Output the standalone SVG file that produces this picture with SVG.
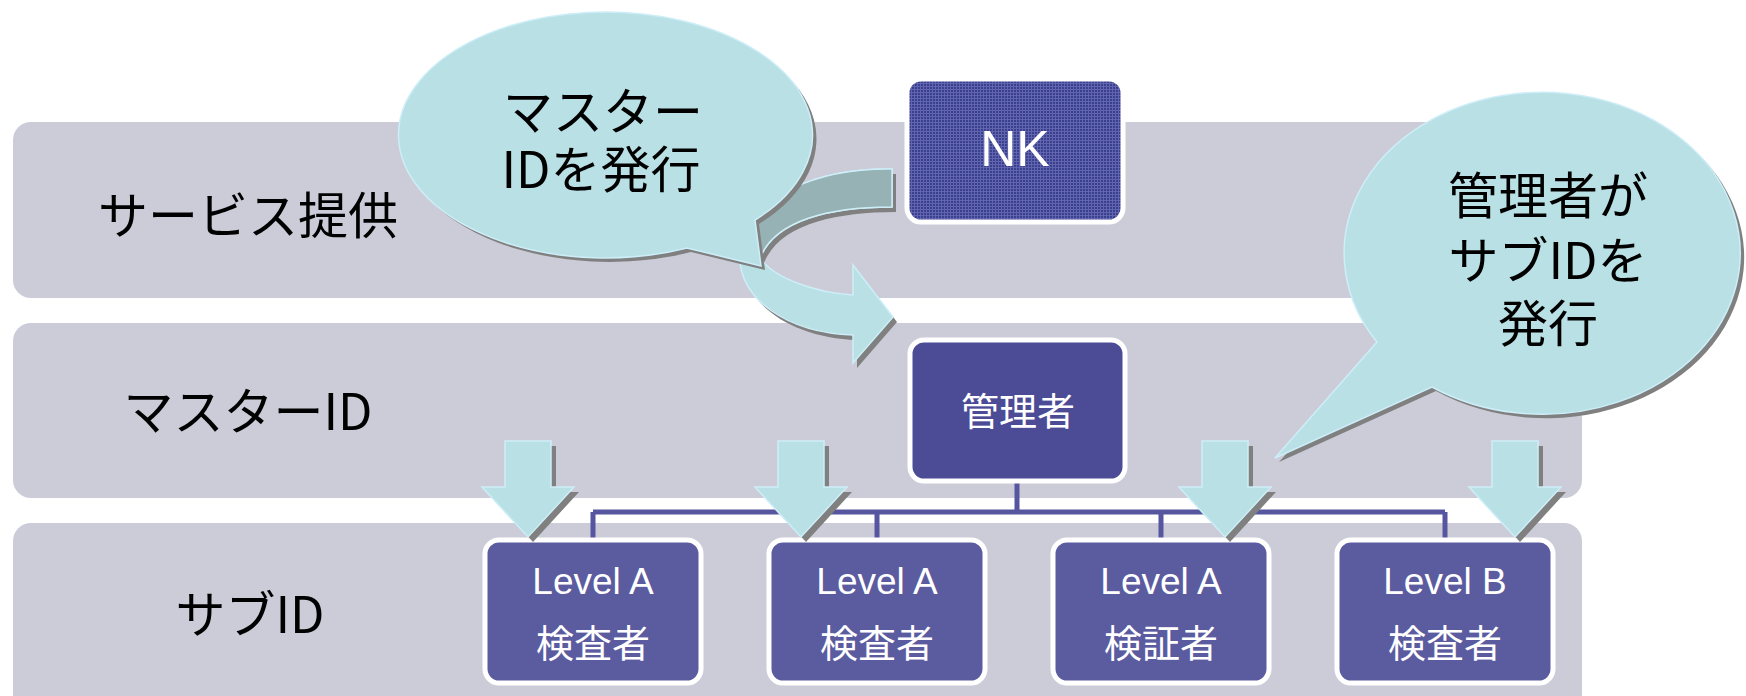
<svg xmlns="http://www.w3.org/2000/svg" xmlns:xlink="http://www.w3.org/1999/xlink" width="1746" height="696" viewBox="0 0 1746 696">
  <defs>
    <pattern id="mesh" width="3" height="3" patternUnits="userSpaceOnUse">
      <rect width="3" height="3" fill="#6065AD"/>
      <rect width="2" height="2" fill="#3A3F90"/>
    </pattern>
    <path id="darrow" d="M -23,441 H 23 V 487 H 46 L 0,537 L -46,487 H -23 Z"/>
    <path id="ribbon" d="M 892,169 C 820,168 748,195 740,250 C 735,300 790,333 853,335 L 853,363 L 893,317 L 853,265 L 853,295 C 820,293 775,280 760,258 C 775,220 830,207 892,207 Z"/>
    <path id="bubble1" d="M 687,248 A 207,123 0 1 1 755,220 L 761,266 Z"/>
    <path id="bubble2" d="M 1432,387 A 198,161 0 1 0 1377,342 L 1275,458 Z"/>
  </defs>
  <style>
    .band { fill: #CCCCD8; }
    .lbl { font-family: "Noto Sans CJK JP", "Noto Sans", sans-serif; font-size: 50px; fill: #000; text-anchor: middle; dominant-baseline: central; }
    .box { stroke: #FFFFFF; stroke-width: 5; }
    .sub { fill: #5B5B9F; }
    .wt { fill: #FFFFFF; text-anchor: middle; dominant-baseline: central; }
    .lat { font-family: "Liberation Sans", Arial, sans-serif; }
    .jp { font-family: "Noto Sans CJK JP", sans-serif; }
    .shadow { fill: #808080; }
    .cyan { fill: #B9E0E4; stroke: #CDEEF8; stroke-width: 1.5; }
    .conn { fill: none; stroke: #5656A0; stroke-width: 5; }
  </style>

  <g id="bands">
    <rect class="band" x="13" y="122" width="1569" height="176" rx="18"/>
    <rect class="band" x="13" y="323" width="1569" height="175" rx="18"/>
    <rect class="band" x="13" y="523" width="1569" height="200" rx="18"/>
    <text class="lbl" x="248" y="212">サービス提供</text>
    <text class="lbl" x="248" y="408">マスターID</text>
    <text class="lbl" x="250" y="611">サブID</text>
  </g>

  <g id="connectors">
    <path class="conn" d="M 1017,482 V 512 M 593,512 H 1445 M 593,512 V 538 M 877,512 V 538 M 1161,512 V 538 M 1445,512 V 538"/>
  </g>

  <g id="node-nk">
    <rect class="box" x="907" y="79" width="216" height="143" rx="14" fill="url(#mesh)"/>
    <text class="wt lat" x="1015" y="149" font-size="50">NK</text>
  </g>

  <g id="node-admin">
    <rect class="box" x="910" y="340" width="215" height="141" rx="14" fill="#4B4B96"/>
    <text class="wt jp" x="1018" y="408" font-size="38">管理者</text>
  </g>

  <g id="node-a-inspector-1">
    <rect class="box sub" x="485" y="540" width="216" height="143" rx="14"/>
    <text class="wt lat" x="593" y="581" font-size="37">Level A</text>
    <text class="wt jp" x="593" y="640" font-size="38">検査者</text>
  </g>
  <g id="node-a-inspector-2">
    <rect class="box sub" x="769" y="540" width="216" height="143" rx="14"/>
    <text class="wt lat" x="877" y="581" font-size="37">Level A</text>
    <text class="wt jp" x="877" y="640" font-size="38">検査者</text>
  </g>
  <g id="node-a-verifier">
    <rect class="box sub" x="1053" y="540" width="216" height="143" rx="14"/>
    <text class="wt lat" x="1161" y="581" font-size="37">Level A</text>
    <text class="wt jp" x="1161" y="640" font-size="38">検証者</text>
  </g>
  <g id="node-b-inspector">
    <rect class="box sub" x="1337" y="540" width="216" height="143" rx="14"/>
    <text class="wt lat" x="1445" y="581" font-size="37">Level B</text>
    <text class="wt jp" x="1445" y="640" font-size="38">検査者</text>
  </g>

  <g id="down-arrows">
    <use href="#darrow" x="533" y="5" class="shadow"/>
    <use href="#darrow" x="528" class="cyan"/>
    <use href="#darrow" x="806" y="5" class="shadow"/>
    <use href="#darrow" x="801" class="cyan"/>
    <use href="#darrow" x="1230" y="5" class="shadow"/>
    <use href="#darrow" x="1225" class="cyan"/>
    <use href="#darrow" x="1520" y="5" class="shadow"/>
    <use href="#darrow" x="1515" class="cyan"/>
  </g>

  <g id="curved-arrow">
    <use href="#ribbon" x="4" y="5" class="shadow"/>
    <use href="#ribbon" class="cyan"/>
    <path d="M 892,169 C 820,168 748,195 740,250 L 760,258 C 775,220 830,207 892,207 Z" fill="#96B2B5" stroke="#CDEEF8" stroke-width="1.5"/>
  </g>

  <g id="bubble-master">
    <use href="#bubble1" x="4" y="4" class="shadow"/>
    <use href="#bubble1" class="cyan" stroke-width="2"/>
    <text class="lbl" x="603" y="108">マスター</text>
    <text class="lbl" x="601" y="166">IDを発行</text>
  </g>

  <g id="bubble-sub">
    <use href="#bubble2" x="4" y="4" class="shadow"/>
    <use href="#bubble2" class="cyan" stroke-width="2"/>
    <text class="lbl" x="1548" y="192">管理者が</text>
    <text class="lbl" x="1548" y="257">サブIDを</text>
    <text class="lbl" x="1548" y="320">発行</text>
  </g>
</svg>
